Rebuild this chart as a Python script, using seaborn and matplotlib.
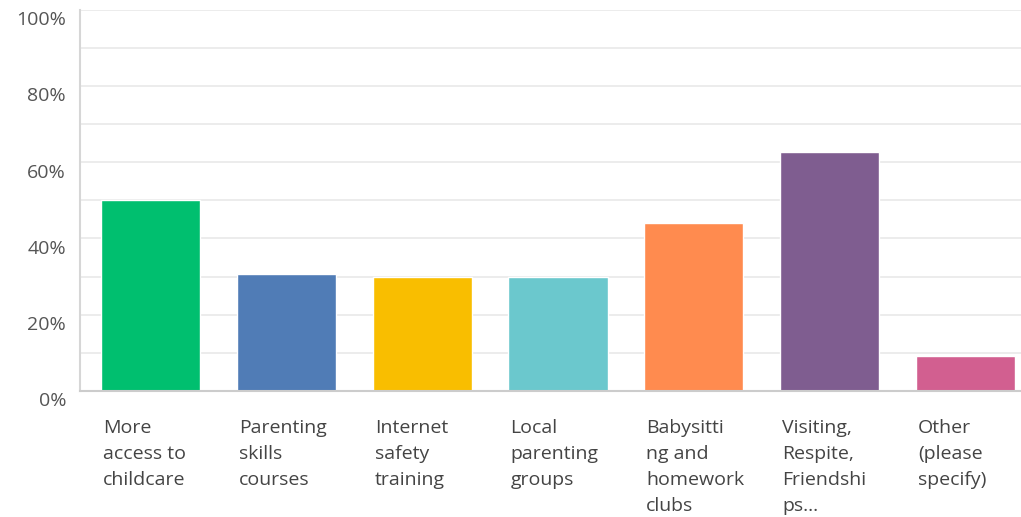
import pandas as pd
import matplotlib
matplotlib.use("Agg")
import matplotlib.pyplot as plt
import matplotlib.transforms as mtransforms
import seaborn as sns

# survey answers and share of respondents (%)
categories = ["More access to childcare", "Parenting skills courses",
              "Internet safety training", "Local parenting groups",
              "Babysitting and homework clubs", "Visiting, Respite, Friendships...",
              "Other (please specify)"]
tick_labels = ["More\naccess to\nchildcare", "Parenting\nskills\ncourses",
               "Internet\nsafety\ntraining", "Local\nparenting\ngroups",
               "Babysitti\nng and\nhomework\nclubs", "Visiting,\nRespite,\nFriendshi\nps...",
               "Other\n(please\nspecify)"]
percent = [50.0, 30.6, 29.8, 29.8, 44.1, 62.6, 9.2]
colors = ["#00BF6F", "#507CB6", "#F9BE00", "#6BC8CD", "#FF8B4F", "#7F5D90", "#D25F90"]

y_ticks = [0, 20, 40, 60, 80, 100]
y_tick_labels = ["0%", "20%", "40%", "60%", "80%", "100%"]

df = pd.DataFrame({"category": categories, "percent": percent})

sns.set_style("white")
plt.rcParams["font.family"] = ["Open Sans", "DejaVu Sans"]

W, H = 1021, 517
fig = plt.figure(figsize=(W / 100, H / 100), dpi=100)
ax = fig.add_axes([80 / W, (H - 391) / H, (W - 80) / W, (391 - 9.5) / H])

sns.barplot(data=df, x="category", y="percent", hue="category", palette=colors,
            legend=False, width=0.73, saturation=1, ax=ax)

ax.set_ylim(0, 100)
ax.set_xlim(-0.52, 6.41)
ax.set_axisbelow(True)
ax.set_yticks(y_ticks)
ax.set_yticks(range(10, 100, 20), minor=True)
ax.yaxis.grid(True, which="both", color="#ebebeb", linewidth=1.3)
ax.set_yticklabels(y_tick_labels, fontsize=14, color="#555555")
ax.tick_params(axis="y", which="both", length=0, pad=10)
down = mtransforms.ScaledTranslation(0, -0.085, fig.dpi_scale_trans)
for lbl in ax.get_yticklabels():
    lbl.set_transform(lbl.get_transform() + down)

ax.set_xticks(range(len(categories)))
ax.set_xticklabels(tick_labels, fontsize=14, color="#444444", ha="left",
                   linespacing=1.58, va="top")
ax.tick_params(axis="x", length=0, pad=20)
shift = mtransforms.ScaledTranslation(-0.475, 0, fig.dpi_scale_trans)
for lbl in ax.get_xticklabels():
    lbl.set_transform(lbl.get_transform() + shift)

ax.set_xlabel("")
ax.set_ylabel("")
for s in ["top", "right"]:
    ax.spines[s].set_visible(False)
ax.spines["left"].set_color("#d6d6d6")
ax.spines["left"].set_linewidth(1.5)
ax.spines["bottom"].set_color("#cccccc")
ax.spines["bottom"].set_linewidth(1.5)

fig.savefig("out.png", dpi=100)
